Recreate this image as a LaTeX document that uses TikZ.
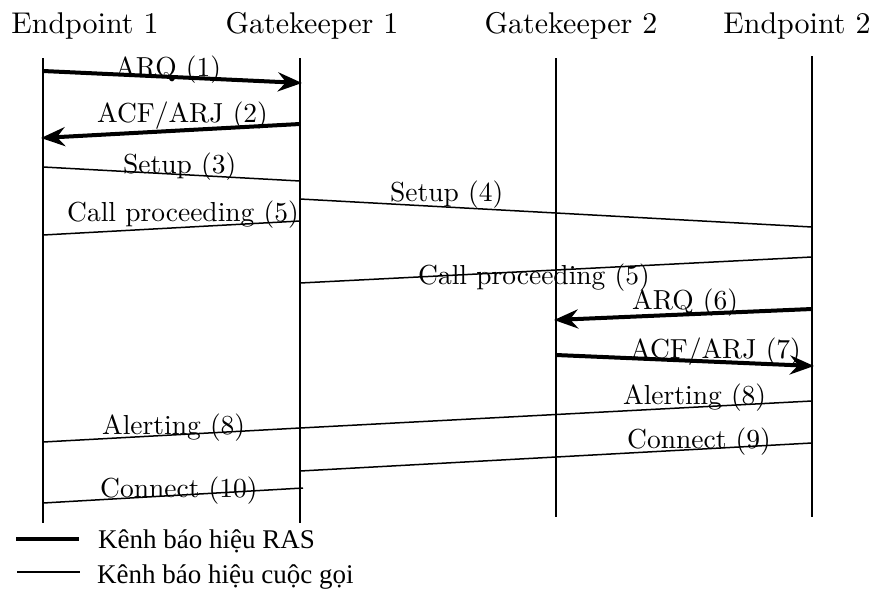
\documentclass[tikz,border=0pt]{standalone}
\usepackage{fontspec}
\setmainfont{lmroman10-regular.otf}
\newfontfamily\legendfont{Liberation Serif}
\usetikzlibrary{arrows.meta}

\tikzset{
  hdr/.style={font=\fontsize{30}{34}\selectfont, inner sep=0pt, anchor=base},
  lbl/.style={font=\fontsize{27.5}{32}\selectfont, inner sep=0pt, anchor=base west},
  legtext/.style={font=\legendfont\fontsize{27}{31}\selectfont, inner sep=0pt, anchor=base west},
  lifeline/.style={line width=2pt},
  callsig/.style={line width=1.5pt},
  rassig/.style={line width=4pt, -{Stealth[length=24pt,width=19pt,inset=8pt]}},
}

\begin{document}
\begin{tikzpicture}[x=1pt,y=-1pt]
\useasboundingbox (0,0) rectangle (876,590);

% participants
\node[hdr] (h1) at (85,33)  {Endpoint 1};
\node[hdr] (h2) at (312,33) {Gatekeeper 1};
\node[hdr] (h3) at (571,33) {Gatekeeper 2};
\node[hdr] (h4) at (797,33) {Endpoint 2};

% lifelines
\coordinate (e1t) at (43,58);  \coordinate (e1b) at (43,523);
\coordinate (g1t) at (300,58); \coordinate (g1b) at (300,523);
\coordinate (g2t) at (556,58); \coordinate (g2b) at (556,517);
\coordinate (e2t) at (812,56); \coordinate (e2b) at (812,517);
\draw[lifeline] (e1t) -- (e1b);
\draw[lifeline] (g1t) -- (g1b);
\draw[lifeline] (g2t) -- (g2b);
\draw[lifeline] (e2t) -- (e2b);

% message end points
\coordinate (a1) at (43,71);   \coordinate (b1) at (302,83);
\coordinate (a2) at (300,124); \coordinate (b2) at (41,138);
\coordinate (a3) at (43,167);  \coordinate (b3) at (300,181);
\coordinate (a4) at (300,199); \coordinate (b4) at (812,227);
\coordinate (a5) at (300,221); \coordinate (b5) at (43,235);
\coordinate (a6) at (812,257); \coordinate (b6) at (300,283);
\coordinate (a7) at (812,309); \coordinate (b7) at (554,320);
\coordinate (a8) at (556,355); \coordinate (b8) at (814,366);
\coordinate (a9) at (812,401); \coordinate (b9) at (300,428);
\coordinate (b10) at (43,442);
\coordinate (a11) at (812,443); \coordinate (b11) at (300,471);
\coordinate (a12) at (303,488); \coordinate (b12) at (43,503);

% RAS signalling
\draw[rassig] (a1) -- (b1);
\draw[rassig] (a2) -- (b2);
\draw[rassig] (a7) -- (b7);
\draw[rassig] (a8) -- (b8);

% call signalling
\draw[callsig] (a3) -- (b3);
\draw[callsig] (a4) -- (b4);
\draw[callsig] (a5) -- (b5);
\draw[callsig] (a6) -- (b6);
\draw[callsig] (a9) -- (b9);
\draw[callsig] (b9) -- (b10);
\draw[callsig] (a11) -- (b11);
\draw[callsig] (a12) -- (b12);

% message labels
\node[lbl] (l1)  at (115,76)  {ARQ (1)};
\node[lbl] (l2)  at (97,122)  {ACF/ARJ (2)};
\node[lbl] (l3)  at (123,173) {Setup (3)};
\node[lbl] (l4)  at (390,201) {Setup (4)};
\node[lbl] (l5)  at (67,221)  {Call proceeding (5)};
\node[lbl] (l6)  at (418,284) {Call proceeding (5)};
\node[lbl] (l7)  at (632,309) {ARQ (6)};
\node[lbl] (l8)  at (630,358) {ACF/ARJ (7)};
\node[lbl] (l9)  at (623,404) {Alerting (8)};
\node[lbl] (l10) at (102,434) {Alerting (8)};
\node[lbl] (l11) at (627,448) {Connect (9)};
\node[lbl] (l12) at (100,497) {Connect (10)};

% legend
\coordinate (k1a) at (16,539); \coordinate (k1b) at (79,539);
\coordinate (k2a) at (17,572); \coordinate (k2b) at (80,572);
\draw[line width=4pt] (k1a) -- (k1b);
\draw[callsig] (k2a) -- (k2b);
\node[legtext] (t1) at (98,548) {Kênh báo hiệu RAS};
\node[legtext] (t2) at (97,583) {Kênh báo hiệu cuộc gọi};
\end{tikzpicture}
\end{document}
